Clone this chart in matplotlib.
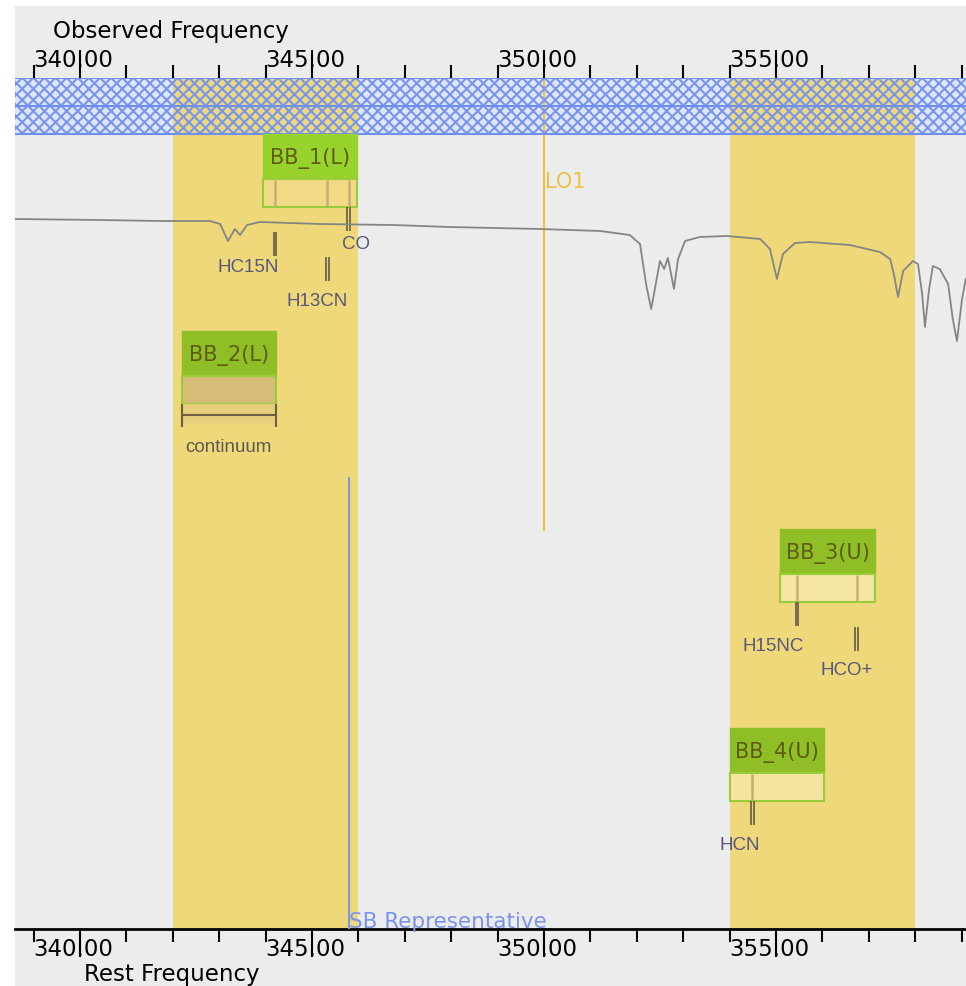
import matplotlib
matplotlib.use("Agg")
import matplotlib.pyplot as plt
from matplotlib.patches import Rectangle
from matplotlib.transforms import ScaledTranslation

# Values (frequencies in GHz)
major_ticks = [340, 345, 350, 355]
minor_ticks = list(range(339, 360))

sidebands_lo = [342.0, 354.0]
sidebands_hi = [346.0, 358.0]

bb_names = ["BB_1(L)", "BB_2(L)", "BB_3(U)", "BB_4(U)"]
bb_lo = [343.94, 342.19, 355.09, 354.01]
bb_hi = [345.97, 344.22, 357.13, 356.03]

line_names = ["CO", "HC15N", "H13CN", "H15NC", "HCO+", "HCN"]
line_freqs = [345.79, 344.20, 345.33, 355.45, 356.74, 354.49]
line_bb = [0, 0, 0, 2, 2, 3]

lo1_freq = 350.0
sb_rep_freq = 345.8

# atmospheric transmission curve
spec_freq = [338.60, 340.43, 341.72, 342.80, 343.02, 343.19, 343.34, 343.45, 343.60,
             343.88, 345.17, 346.75, 347.97, 349.91, 351.21, 351.85, 352.07, 352.20,
             352.31, 352.39, 352.50, 352.59, 352.67, 352.74, 352.80, 352.89, 353.04,
             353.36, 353.94, 354.66, 354.87, 355.02, 355.15, 355.41, 355.73, 356.59,
             357.24, 357.46, 357.54, 357.63, 357.74, 357.95, 358.06, 358.15, 358.21,
             358.30, 358.38, 358.53, 358.71, 358.81, 358.90, 359.01, 359.09]
spec_trans = [0.85, 0.845, 0.84, 0.84, 0.825, 0.74, 0.80, 0.77, 0.82,
              0.835, 0.825, 0.82, 0.81, 0.80, 0.79, 0.77, 0.725, 0.525,
              0.40, 0.50, 0.64, 0.60, 0.655, 0.575, 0.50, 0.65, 0.74,
              0.76, 0.765, 0.75, 0.70, 0.55, 0.675, 0.73, 0.735, 0.72,
              0.685, 0.65, 0.575, 0.46, 0.59, 0.64, 0.625, 0.475, 0.31,
              0.50, 0.615, 0.60, 0.525, 0.35, 0.24, 0.45, 0.55]

W, H = 966, 987
fig = plt.figure(figsize=(W / 100, H / 100), dpi=100)
fig.patch.set_facecolor("white")
fig.patches.append(Rectangle((15 / W, 0), (W - 15) / W, 1 - 7 / H, transform=fig.transFigure,
                             facecolor="#ececec", edgecolor="none", zorder=-10))

# main axes: y is a layout coordinate in pixels below the top band edge
ax = fig.add_axes([15 / W, (H - 930) / H, (W - 15) / W, (930 - 79) / H])
ax.set_facecolor("none")
ax.set_xlim(338.6, 359.095)
ax.set_ylim(851, 0)
ax.set_yticks([])
for s in ["left", "right", "top"]:
    ax.spines[s].set_visible(False)
ax.spines["bottom"].set_linewidth(2)

ax.set_xticks(major_ticks)
ax.set_xticks(minor_ticks, minor=True)
ax.xaxis.set_ticks_position("both")
ax.tick_params(which="both", direction="out", width=1.5, color="black",
               labelbottom=False, labeltop=False)
ax.tick_params(which="major", length=20)
ax.tick_params(which="minor", length=9.5)

# tick labels, the decimal point sits under the long tick
xtrans = ax.get_xaxis_transform()
for v in major_ticks:
    ax.text(v, 1, f"{v:.2f}", ha="center", va="baseline", fontsize=16.5,
            transform=xtrans + ScaledTranslation(-0.07, 0.12, fig.dpi_scale_trans))
    ax.text(v, 0, f"{v:.2f}", ha="center", va="baseline", fontsize=16.5,
            transform=xtrans + ScaledTranslation(-0.07, -0.26, fig.dpi_scale_trans))

fig.text(53 / W, 1 - 38 / H, "Observed Frequency", fontsize=16.5, va="baseline")
fig.text(84 / W, 1 - 981 / H, "Rest Frequency", fontsize=16.5, va="baseline")

band_h = 56
yellow = "#eed87a"
hatch_blue = "#7896f0"
plt.rcParams["hatch.linewidth"] = 1.5

xmin, xmax = ax.get_xlim()
ax.add_patch(Rectangle((xmin, 0), xmax - xmin, band_h, facecolor="#dfe6fa",
                       edgecolor="none", zorder=1))
for lo, hi in zip(sidebands_lo, sidebands_hi):
    ax.add_patch(Rectangle((lo, 0), hi - lo, 851, facecolor=yellow, edgecolor="none", zorder=2))
ax.vlines(lo1_freq, 0, 453, color="#f0c040", lw=1.5, zorder=2.5)
ax.add_patch(Rectangle((xmin, 0), xmax - xmin, band_h, facecolor="none",
                       edgecolor=hatch_blue, hatch="xxx", lw=0, zorder=3))
ax.hlines([0, band_h / 2, band_h], xmin, xmax, color="#6f8fef", lw=1.5, zorder=3.5)

ax.text(lo1_freq + 0.02, 109, "LO1", color="#f0c040", fontsize=15, va="baseline",
        ha="left", zorder=4)

# baseband windows
header_top = [56, 253, 451, 650]
header_h, body_h = 45, 28
header_col = ["#98d22c", "#8fbe27", "#8fbe27", "#8fbe27"]
body_col = ["#f0da86", "#d5bd78", "#f5e6a4", "#f4e4a0"]
for i, name in enumerate(bb_names):
    lo, hi, top = bb_lo[i], bb_hi[i], header_top[i]
    ax.add_patch(Rectangle((lo, top), hi - lo, header_h, facecolor=header_col[i],
                           edgecolor=header_col[i], lw=1, zorder=4))
    ax.add_patch(Rectangle((lo, top + header_h), hi - lo, body_h, facecolor=body_col[i],
                           edgecolor="#98cc3a", lw=1.5, zorder=4))
    ax.text((lo + hi) / 2, top + header_h / 2 + 1, name, ha="center", va="center",
            fontsize=15, color="#5f5c12", zorder=5)

# continuum bracket under BB_2
c_top = header_top[1] + header_h + body_h
ax.add_patch(Rectangle((bb_lo[1], c_top), bb_hi[1] - bb_lo[1], 20, facecolor="#e6cf7a",
                       edgecolor="none", zorder=4))
ax.vlines([bb_lo[1], bb_hi[1]], c_top, c_top + 23, color="#6e6040", lw=1.5, zorder=5)
ax.hlines(c_top + 11, bb_lo[1], bb_hi[1], color="#6e6040", lw=1.5, zorder=5)
ax.text((bb_lo[1] + bb_hi[1]) / 2, c_top + 34, "continuum", ha="center", va="top",
        fontsize=13.5, color="#5e5a50", family="Liberation Sans", zorder=5)

# spectral line markers
line_level = [0, 1, 2, 0, 1, 0]
label_dx = [7, -27, -10, -24, -10, -13]
label_gap = [8, 6, 15, 15, 14, 15]
px = (xmax - xmin) / (W - 15)
for i, name in enumerate(line_names):
    f = line_freqs[i]
    b = line_bb[i]
    body_top = header_top[b] + header_h
    ax.vlines(f, body_top + 1, body_top + body_h - 1, color="#c9ad72", lw=1.8, zorder=4.5)
    m_top = body_top + body_h + 25 * line_level[i]
    ax.vlines([f - 1.3 * px, f + 1.3 * px], m_top, m_top + 24, color="#5a5040", lw=1.1, zorder=6)
    ax.text(f + label_dx[i] * px, m_top + 24 + label_gap[i] - 3.5, name, ha="center",
            va="top", fontsize=13.5, color="#58587a", family="Liberation Sans", zorder=6)

# sideband representative
ax.vlines(sb_rep_freq, 399, 851, color="#7d95e6", lw=1.5, zorder=6)
ax.text(sb_rep_freq, 849, "SB Representative", color="#7b93ea", fontsize=15.5,
        ha="left", va="baseline", zorder=6)

# transmission spectrum on its own y scale
ax_spec = ax.twinx()
ax_spec.set_axis_off()
ax_spec.set_ylim(-2.7, 1.555)
ax_spec.plot(spec_freq, spec_trans, color="#858585", lw=1.3)
ax_spec.set_xlim(xmin, xmax)

fig.savefig("out.png", dpi=100, facecolor="white")
